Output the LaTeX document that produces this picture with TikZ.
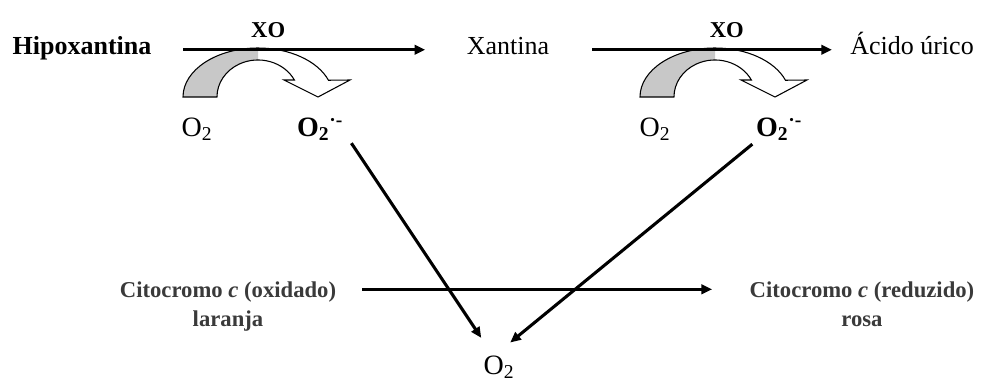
\documentclass[tikz,border=0pt]{standalone}
\usepackage{fontspec}
\setmainfont{Liberation Serif}
\usetikzlibrary{arrows.meta}
\definecolor{cytogray}{HTML}{3A3A3A}
\definecolor{bandgray}{HTML}{C8C8C8}

\begin{document}
\begin{tikzpicture}[
    x=0.75pt, y=-0.75pt,
    species/.style={inner sep=0pt, anchor=south, text height=0.75em, text depth=0pt,
                    font=\fontsize{19.5}{23}\selectfont},
    boldspecies/.style={species, font=\fontsize{19.5}{23}\selectfont\bfseries},
    oxygen/.style={species, font=\fontsize{21}{25}\selectfont},
    radical/.style={species, font=\fontsize{21}{25}\selectfont\bfseries},
    enzyme/.style={inner sep=0pt, font=\fontsize{17}{20}\selectfont\bfseries},
    cyto/.style={inner sep=0pt, anchor=north, align=center, text=cytogray,
                 font=\fontsize{17}{21}\selectfont\bfseries},
    react/.style={-{Triangle[length=8pt,width=7pt]}, line width=2.3pt},
    bentarrow/.pic={
      \fill[bandgray] (-75,0) arc[start angle=180, end angle=270, x radius=75, y radius=49]
        -- (0,-37) arc[start angle=270, end angle=180, x radius=41, y radius=37] -- cycle;
      \draw[line width=0.8pt] (-75,0) arc[start angle=180, end angle=340, x radius=75, y radius=49]
        -- (92,-17) -- (60,0) -- (26,-17) -- (36.4,-17)
        arc[start angle=332.7, end angle=180, x radius=41, y radius=37] -- cycle;
    },
  ]
  \useasboundingbox (0,0) rectangle (1003,379);

  % top row
  \node[boldspecies] (hipo) at (82,55) {Hipoxantina};
  \node[species] (xan) at (508,55) {Xantina};
  \node[species, anchor=south west] (urico) at (850,55) {Ácido úrico};

  \pic (bend1) at (258,97) {bentarrow};
  \pic (bend2) at (715,97) {bentarrow};

  \draw[react, shorten <=23.6pt, shorten >=31pt] (hipo.east)
    -- node[enzyme, pos=.37, above=7.5pt] (xo1) {XO} (xan.west);
  \draw[react, shorten <=32pt, shorten >=13.5pt] (xan.east)
    -- node[enzyme, pos=.59, above=7.5pt] (xo2) {XO} (urico.west);

  \node[oxygen] (o2a) at (197,137) {O\textsubscript{2}};
  \node[radical] (rad1) at (320,137) {O\textsubscript{2}\textsuperscript{·-}};
  \node[oxygen] (o2b) at (655,137) {O\textsubscript{2}};
  \node[radical] (rad2) at (779,137) {O\textsubscript{2}\textsuperscript{·-}};

  % cytochrome c
  \node[cyto] (cox) at (228,282) {Citocromo \textit{c} (oxidado)\\laranja};
  \node[cyto] (cred) at (862,282) {Citocromo \textit{c} (reduzido)\\rosa};
  \node[oxygen] (o2c) at (499,375) {O\textsubscript{2}};

  \draw[react, shorten <=19.5pt, shorten >=28pt] ([yshift=-5.5pt]cox.north east)
    -- ([yshift=-5.5pt]cred.north west);
  \draw[react, shorten <=5.6pt, shorten >=24pt] ([xshift=3pt]rad1.south east) -- (o2c.north);
  \draw[react, shorten <=8.5pt, shorten >=26pt] ([xshift=4pt]rad2.south west) -- (o2c.north west);
\end{tikzpicture}
\end{document}
